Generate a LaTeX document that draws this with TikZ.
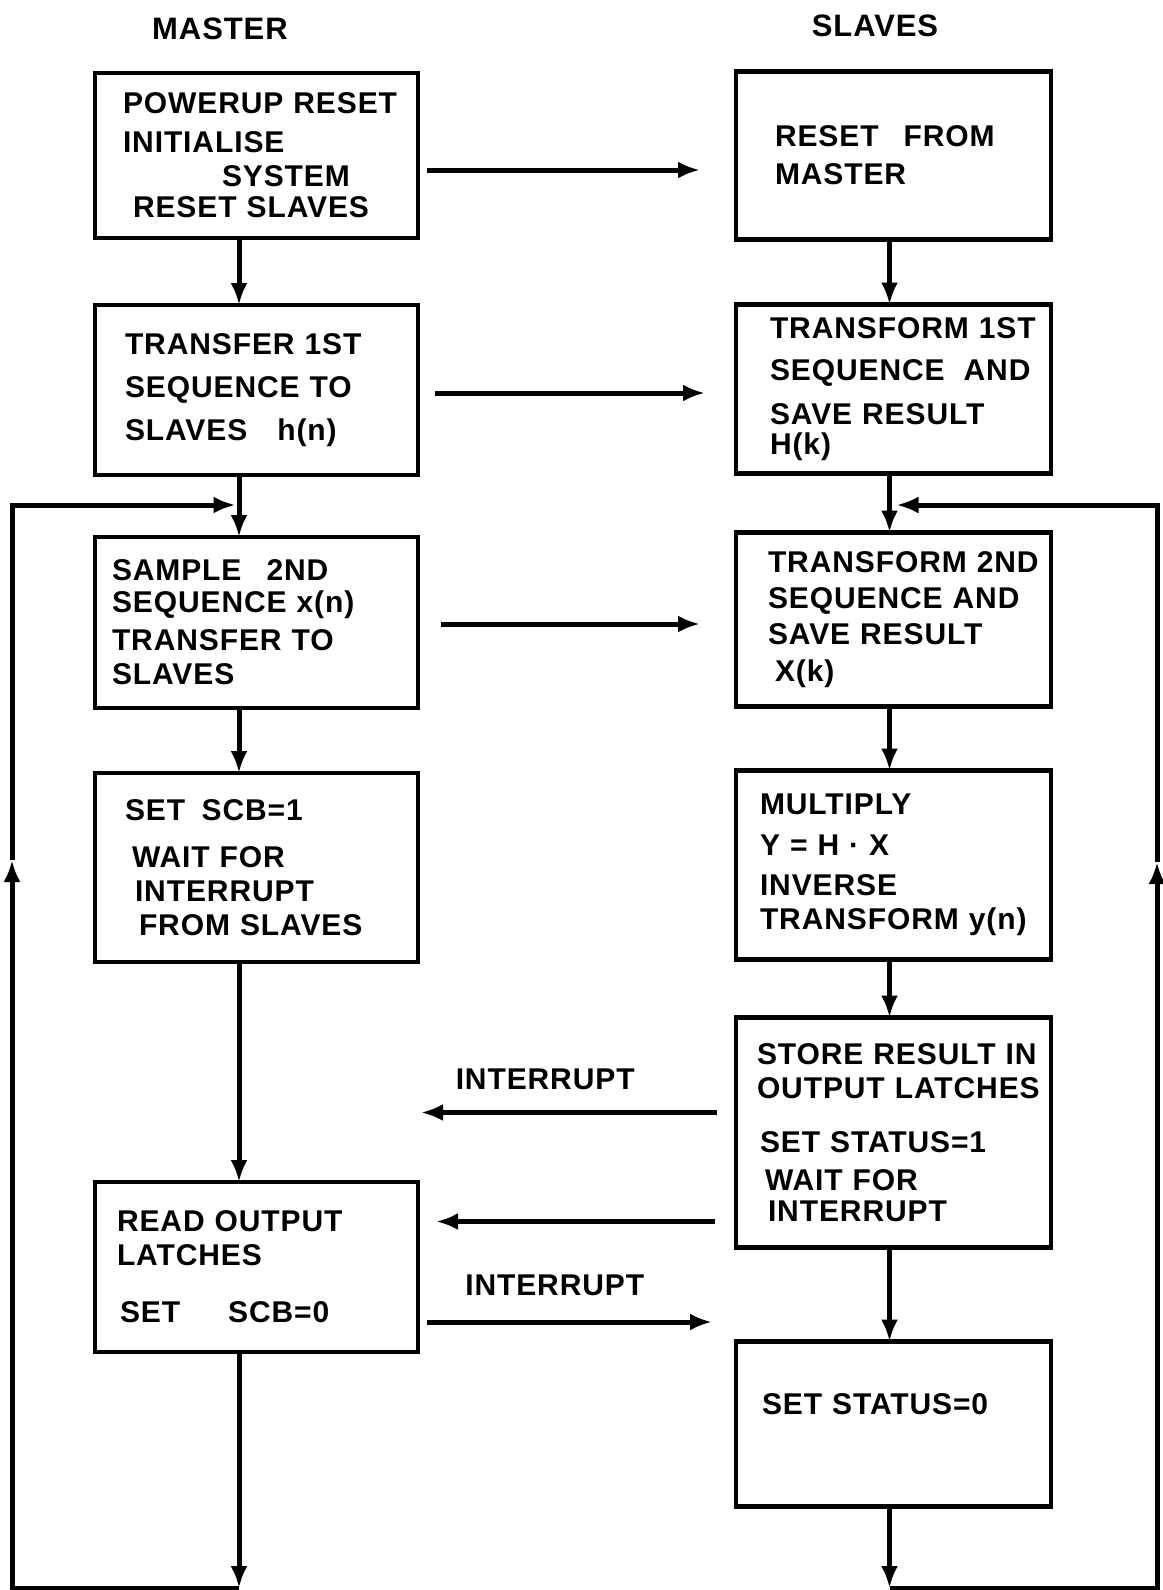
\documentclass[tikz,border=0pt]{standalone}
\usepackage{fontspec}
\setmainfont{Liberation Sans}[LetterSpace=3]
\usetikzlibrary{positioning,arrows.meta}
\hyphenpenalty=10000
\lefthyphenmin=64

\begin{document}
\begin{tikzpicture}[
    x=0.5pt, y=0.5pt,
    block/.style={draw, rectangle, line width=2.4pt, outer sep=0pt, minimum width=161.5pt, inner xsep=0pt, inner ysep=3pt, align=left, font=\bfseries\fontsize{15}{17}\selectfont},
    sblock/.style={block, minimum width=157.5pt},
    arrow/.style={-{Latex[length=11pt, width=8.5pt]}, line width=2.5pt},
    title/.style={inner sep=0pt, font=\bfseries\fontsize{15.5}{18}\selectfont},
    lbl/.style={inner sep=0pt, font=\bfseries\fontsize{15}{17}\selectfont}
]
\useasboundingbox (0,0) rectangle (1162,-1590);

% Master
\node[block, text width=133.5pt, minimum height=82.5pt] (master1) at (256.5,-155.5) {POWERUP~RESET\\[2.5pt]INITIALISE\\\hspace*{49.5pt}SYSTEM\\[-1.5pt]\hspace*{5pt}RESET~SLAVES};
\node[block, text width=131.5pt, minimum height=85pt, below=33.5pt of master1] (master2) {TRANSFER~1ST\\[4.5pt]SEQUENCE~TO\\[4.5pt]SLAVES\quad h(n)};
\node[block, text width=144.5pt, minimum height=85.5pt, below=31pt of master2] (master3) {SAMPLE~\enspace 2ND\\[-1pt]SEQUENCE~x(n)\\[2pt]TRANSFER~TO\\SLAVES};
\node[block, text width=131.5pt, minimum height=94.5pt, below=32.5pt of master3] (master4) {SET\hspace{0.55em}SCB=1\\[6.5pt]\hspace*{3.5pt}WAIT~FOR\\\hspace*{5pt}INTERRUPT\\\hspace*{7pt}FROM~SLAVES};
\node[block, text width=139.5pt, minimum height=85pt, below=110pt of master4] (master5) {READ~OUTPUT\\LATCHES\\[11.5pt]\hspace*{1.5pt}SET\hspace{1.6em}SCB=0};

% Slaves
\node[sblock, text width=118.5pt, minimum height=84pt, right=159pt of master1] (slave1) {RESET~\enspace FROM\\[2pt]MASTER};
\node[sblock, text width=123.5pt, minimum height=84.5pt, below=32.5pt of slave1] (slave2) {TRANSFORM~1ST\\[4pt]SEQUENCE~\hspace{0.3em}AND\\[5pt]SAVE~RESULT\\[-2pt]H(k)};
\node[sblock, text width=125.5pt, minimum height=87pt, below=29.5pt of slave2] (slave3) {TRANSFORM~2ND\\[1pt]SEQUENCE~AND\\[1pt]SAVE~RESULT\\[1.5pt]\hspace*{3.5pt}X(k)};
\node[sblock, text width=133.5pt, minimum height=94.5pt, below=32pt of slave3] (slave4) {MULTIPLY\\[3.5pt]Y~=~H~·~X\\[3pt]INVERSE\\TRANSFORM~y(n)};
\node[sblock, text width=136.5pt, minimum height=115pt, below=29pt of slave4] (slave5) {STORE~RESULT~IN\\OUTPUT~LATCHES\\[10pt]\hspace*{1.5pt}SET~STATUS=1\\[2pt]\hspace*{4pt}WAIT~FOR\\[-1.5pt]\hspace*{5.5pt}INTERRUPT};
\node[sblock, text width=131.5pt, minimum height=82.5pt, text depth=20pt, below=47pt of slave5] (slave6) {SET~STATUS=0};

% Titles
\node[title, above=16.5pt of master1, xshift=-18.25pt] (mtitle) {MASTER};
\node[title, above=17pt of slave1, xshift=-9.25pt] (stitle) {SLAVES};

% Loop corners
\coordinate (lbot) at (12,-1588);
\coordinate (lmid) at (12,-860);
\coordinate (ltop) at (12,-505);
\coordinate (rbot) at (1157,-1588);
\coordinate (rmid) at (1157,-862);
\coordinate (rtop) at (1157,-505);

% Master flow
\draw[arrow] ([xshift=-8.75pt]master1.south) -- ([xshift=-8.75pt]master2.north);
\draw[arrow] ([xshift=-8.75pt]master2.south) -- ([xshift=-8.75pt]master3.north);
\draw[arrow] ([xshift=-8.75pt]master3.south) -- ([xshift=-8.75pt]master4.north);
\draw[arrow] ([xshift=-8.75pt]master4.south) -- ([xshift=-8.75pt]master5.north);
\draw[arrow] ([xshift=-8.75pt]master5.south) -- ([xshift=-8.75pt]master5.south |- lbot);

% Slave flow
\draw[arrow] ([xshift=-2pt]slave1.south) -- ([xshift=-2pt]slave2.north);
\draw[arrow] ([xshift=-2pt]slave2.south) -- ([xshift=-2pt]slave3.north);
\draw[arrow] ([xshift=-2pt]slave3.south) -- ([xshift=-2pt]slave4.north);
\draw[arrow] ([xshift=-2pt]slave4.south) -- ([xshift=-2pt]slave5.north);
\draw[arrow] ([xshift=-2pt]slave5.south) -- ([xshift=-2pt]slave6.north);
\draw[arrow] ([xshift=-2pt]slave6.south) -- ([xshift=-2pt]slave6.south |- rbot);

% Loops back
\draw[arrow] ([xshift=-8.75pt]master5.south |- lbot) -- (lbot) -- (lmid);
\draw[arrow] (lmid) -- (ltop) -- ([xshift=-10.5pt]master3.north |- ltop);
\draw[arrow] ([xshift=-2pt]slave6.south |- rbot) -- (rbot) -- (rmid);
\draw[arrow] (rmid) -- (rtop) -- ([xshift=1.5pt]slave3.north |- rtop);

% Master to slaves
\draw[arrow, shorten <=4.5pt, shorten >=18pt] ([yshift=-7.25pt]master1.east) -- ([yshift=-7.25pt]master1.east -| slave1.west);
\draw[arrow, shorten <=8.5pt, shorten >=15.5pt] ([yshift=-1.5pt]master2.east) -- ([yshift=-1.5pt]master2.east -| slave2.west);
\draw[arrow, shorten <=11.5pt, shorten >=18pt] ([yshift=-0.75pt]master3.east) -- ([yshift=-0.75pt]master3.east -| slave3.west);

% Interrupts
\draw[arrow, shorten <=9.5pt, shorten >=1.5pt] ([yshift=10pt]slave5.west) -- ([yshift=10pt]slave5.west -| master5.east) node[lbl, pos=0.6, above=10pt] {INTERRUPT};
\draw[arrow, shorten <=10.5pt, shorten >=9pt] ([yshift=-44.5pt]slave5.west) -- ([yshift=-44.5pt]slave5.west -| master5.east);
\draw[arrow, shorten <=4.5pt, shorten >=12pt] ([yshift=-27.5pt]master5.east) -- ([yshift=-27.5pt]master5.east -| slave6.west) node[lbl, pos=0.43, above=12pt] {INTERRUPT};

\end{tikzpicture}
\end{document}
